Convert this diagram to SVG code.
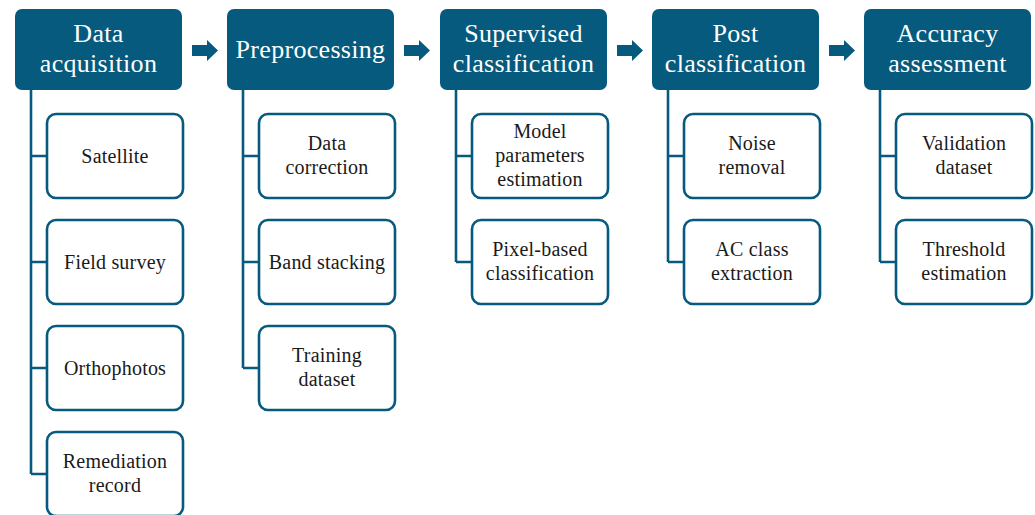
<svg xmlns="http://www.w3.org/2000/svg" width="1035" height="515" viewBox="0 0 1035 515">
<style>
.hd{fill:#065a7d}
.hl{fill:#fff;font-family:"Liberation Serif",serif;font-size:26px;letter-spacing:0.3px;text-anchor:middle}
.ch{fill:#fff;stroke:#065a7d;stroke-width:2.6}
.cl{fill:#1a1a1a;font-family:"Liberation Serif",serif;font-size:20px;letter-spacing:0.2px;text-anchor:middle}
.ln{fill:none;stroke:#065a7d;stroke-width:2.6}
.ar{fill:#065a7d}
</style>
<rect width="1035" height="515" fill="#fff"/>
<g id="connectors">
<path class="ln" d="M31 90V474M31 156H47M31 262H47M31 368H47M31 474H47"/>
<path class="ln" d="M243 90V368M243 156H259M243 262H259M243 368H259"/>
<path class="ln" d="M456 90V262M456 156H472M456 262H472"/>
<path class="ln" d="M668 90V262M668 156H684M668 262H684"/>
<path class="ln" d="M880 90V262M880 156H896M880 262H896"/>
<path class="ar" d="M192 45H207V40L218 50.5L207 61V56H192Z"/>
<path class="ar" d="M404 45H419V40L430 50.5L419 61V56H404Z"/>
<path class="ar" d="M617 45H632V40L643 50.5L632 61V56H617Z"/>
<path class="ar" d="M829 45H844V40L855 50.5L844 61V56H829Z"/>
</g>
<g id="h1"><rect class="hd" x="15" y="9" width="167" height="81" rx="7"/><text class="hl" x="98.5" y="42">Data</text><text class="hl" x="98.5" y="72">acquisition</text></g>
<g id="h2"><rect class="hd" x="227" y="9" width="167" height="81" rx="7"/><text class="hl" x="310.5" y="58">Preprocessing</text></g>
<g id="h3"><rect class="hd" x="440" y="9" width="167" height="81" rx="7"/><text class="hl" x="523.5" y="42">Supervised</text><text class="hl" x="523.5" y="72">classification</text></g>
<g id="h4"><rect class="hd" x="652" y="9" width="167" height="81" rx="7"/><text class="hl" x="735.5" y="42">Post</text><text class="hl" x="735.5" y="72">classification</text></g>
<g id="h5"><rect class="hd" x="864" y="9" width="167" height="81" rx="7"/><text class="hl" x="947.5" y="42">Accuracy</text><text class="hl" x="947.5" y="72">assessment</text></g>

<g id="c1a"><rect class="ch" x="47" y="114" width="136" height="84" rx="9"/><text class="cl" x="115" y="162.5">Satellite</text></g>
<g id="c1b"><rect class="ch" x="47" y="220" width="136" height="84" rx="9"/><text class="cl" x="115" y="268.5">Field survey</text></g>
<g id="c1c"><rect class="ch" x="47" y="326" width="136" height="84" rx="9"/><text class="cl" x="115" y="374.5">Orthophotos</text></g>
<g id="c1d"><rect class="ch" x="47" y="432" width="136" height="84" rx="9"/><text class="cl" x="115" y="468">Remediation</text><text class="cl" x="115" y="492">record</text></g>

<g id="c2a"><rect class="ch" x="259" y="114" width="136" height="84" rx="9"/><text class="cl" x="327" y="150">Data</text><text class="cl" x="327" y="174">correction</text></g>
<g id="c2b"><rect class="ch" x="259" y="220" width="136" height="84" rx="9"/><text class="cl" x="327" y="268.5">Band stacking</text></g>
<g id="c2c"><rect class="ch" x="259" y="326" width="136" height="84" rx="9"/><text class="cl" x="327" y="362">Training</text><text class="cl" x="327" y="386">dataset</text></g>

<g id="c3a"><rect class="ch" x="472" y="114" width="136" height="84" rx="9"/><text class="cl" x="540" y="138">Model</text><text class="cl" x="540" y="162">parameters</text><text class="cl" x="540" y="186">estimation</text></g>
<g id="c3b"><rect class="ch" x="472" y="220" width="136" height="84" rx="9"/><text class="cl" x="540" y="256">Pixel-based</text><text class="cl" x="540" y="280">classification</text></g>

<g id="c4a"><rect class="ch" x="684" y="114" width="136" height="84" rx="9"/><text class="cl" x="752" y="150">Noise</text><text class="cl" x="752" y="174">removal</text></g>
<g id="c4b"><rect class="ch" x="684" y="220" width="136" height="84" rx="9"/><text class="cl" x="752" y="256">AC class</text><text class="cl" x="752" y="280">extraction</text></g>

<g id="c5a"><rect class="ch" x="896" y="114" width="136" height="84" rx="9"/><text class="cl" x="964" y="150">Validation</text><text class="cl" x="964" y="174">dataset</text></g>
<g id="c5b"><rect class="ch" x="896" y="220" width="136" height="84" rx="9"/><text class="cl" x="964" y="256">Threshold</text><text class="cl" x="964" y="280">estimation</text></g>
</svg>
